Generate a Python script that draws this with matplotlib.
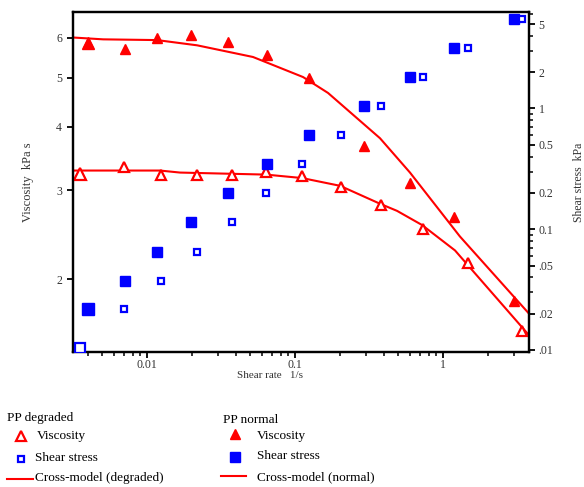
import matplotlib
matplotlib.use("Agg")
import matplotlib.pyplot as plt
from matplotlib.lines import Line2D
from matplotlib.ticker import FixedLocator, NullFormatter, NullLocator

plt.rcParams['font.family'] = ['Liberation Serif', 'DejaVu Serif']

# ---- data ----
x_normal = [0.0040, 0.0071, 0.0117, 0.0197, 0.0353, 0.0644, 0.124, 0.293, 0.598, 1.18, 3.03]
visc_normal = [5.85, 5.70, 6.00, 6.08, 5.88, 5.54, 4.99, 3.67, 3.10, 2.66, 1.81]
stress_normal = [0.0218, 0.0374, 0.0652, 0.114, 0.198, 0.348, 0.604, 1.05, 1.81, 3.16, 5.52]

x_degr = [0.00353, 0.00696, 0.0124, 0.0218, 0.0373, 0.064, 0.1115, 0.2046, 0.380, 0.730, 1.468, 3.43]
visc_degr = [3.23, 3.34, 3.22, 3.22, 3.22, 3.26, 3.20, 3.05, 2.80, 2.51, 2.15, 1.58]
stress_degr = [0.0104, 0.022, 0.0374, 0.0652, 0.114, 0.200, 0.348, 0.604, 1.05, 1.81, 3.16, 5.52]

x_model_normal = [0.00316, 0.00505, 0.01168, 0.0218, 0.052, 0.1133, 0.167, 0.375, 0.598, 1.30, 3.81]
visc_model_normal = [6.01, 5.96, 5.94, 5.80, 5.50, 5.02, 4.67, 3.80, 3.25, 2.43, 1.71]

x_model_degr = [0.00316, 0.01224, 0.0167, 0.0637, 0.1115, 0.2014, 0.375, 0.489, 0.721, 1.205, 3.81]
visc_model_degr = [3.28, 3.28, 3.25, 3.22, 3.17, 3.06, 2.82, 2.73, 2.56, 2.28, 1.55]

visc_ticks = [2, 3, 4, 5, 6]
stress_ticks = [0.01, 0.02, 0.05, 0.1, 0.2, 0.5, 1, 2, 5]
stress_tick_labels = [".01", ".02", ".05", "0.1", "0.2", "0.5", "1", "2", "5"]
x_ticks = [0.01, 0.1, 1]
x_tick_labels = ["0.01", "0.1", "1"]

RED = "#ff0000"
BLUE = "#0000ff"
W, H = 584, 487

fig = plt.figure(figsize=(W / 100, H / 100), dpi=100)
L, R, T, B = 73, 529, 12, 352
ax = fig.add_axes([L / W, 1 - B / H, (R - L) / W, (B - T) / H])
ax2 = ax.twinx()

ax.set_xscale('log')
ax.set_yscale('log')
ax2.set_yscale('log')
ax.set_xlim(0.00316, 3.81)
ax.set_ylim(1.436, 6.75)
ax2.set_ylim(0.00962, 6.29)

# model lines
ax.plot(x_model_normal, visc_model_normal, color=RED, lw=1.5, zorder=2)
ax.plot(x_model_degr, visc_model_degr, color=RED, lw=1.5, zorder=2)

# viscosity markers
ax.plot(x_normal, visc_normal, ls='none', marker='^', ms=7, color=RED, zorder=3)
ax.plot(x_normal[:1], visc_normal[:1], ls='none', marker='^', ms=9, color=RED, zorder=3)
ax.plot(x_degr, visc_degr, ls='none', marker='^', ms=6.5, mfc='white', mec=RED, mew=1.6, zorder=3)
ax.plot(x_degr[:1], visc_degr[:1], ls='none', marker='^', ms=8, mfc='white', mec=RED, mew=1.6, zorder=3)

# stress markers
ax2.plot(x_normal, stress_normal, ls='none', marker='s', ms=6.5, color=BLUE, zorder=3)
ax2.plot(x_normal[:1], stress_normal[:1], ls='none', marker='s', ms=8.2, color=BLUE, zorder=3)
ax2.plot(x_degr, stress_degr, ls='none', marker='s', ms=5, mfc='white', mec=BLUE, mew=1.6, zorder=3)
ax2.plot(x_degr[:1], stress_degr[:1], ls='none', marker='s', ms=6.5, mfc='white', mec=BLUE, mew=1.6, zorder=3)

# ticks
ax.xaxis.set_major_locator(FixedLocator(x_ticks))
ax.set_xticklabels(x_tick_labels)
ax.yaxis.set_major_locator(FixedLocator(visc_ticks))
ax.yaxis.set_minor_locator(NullLocator())
ax.set_yticklabels([str(v) for v in visc_ticks])
ax.yaxis.set_minor_formatter(NullFormatter())

stress_minor = [m * d for d in [0.01, 0.1, 1] for m in [3, 4, 6, 7, 8, 9]]
ax2.yaxis.set_major_locator(FixedLocator(stress_ticks))
ax2.yaxis.set_minor_locator(FixedLocator(stress_minor))
ax2.set_yticklabels(stress_tick_labels)
ax2.yaxis.set_minor_formatter(NullFormatter())

for a in (ax, ax2):
    for s in a.spines.values():
        s.set_linewidth(1.6)
    a.tick_params(which='major', length=4, width=1.3, labelsize=8.5, direction='out', colors='black', labelcolor='#333333', pad=2)
    a.tick_params(which='minor', length=3, width=1.1, direction='out')
ax.tick_params(axis='x', which='both', top=False)
ax.tick_params(axis='x', which='major', pad=1)
ax.tick_params(axis='y', which='major', pad=4)
ax2.tick_params(axis='y', which='major', pad=3)

ax.set_ylabel("Viscosity  kPa s", fontsize=9, labelpad=16, color='#333333')
ax2.set_ylabel("Shear stress  kPa", fontsize=8.5, labelpad=14, color='#333333')
fig.text(270 / W, 1 - 376 / H, "Shear rate   1/s", fontsize=8, ha='center', va='center', color='#333333')

# ---- custom legend ----
def fx(px):
    return px / W

def fy(py):
    return 1 - py / H

lfs = 9.5
fig.text(fx(7), fy(418), "PP degraded", fontsize=lfs, ha='left', va='center')
fig.add_artist(Line2D([fx(21)], [fy(436)], transform=fig.transFigure, ls='none', marker='^', ms=6.5, mfc='white', mec=RED, mew=1.6))
fig.text(fx(37), fy(436), "Viscosity", fontsize=lfs, ha='left', va='center')
fig.add_artist(Line2D([fx(21)], [fy(459)], transform=fig.transFigure, ls='none', marker='s', ms=5, mfc='white', mec=BLUE, mew=1.6))
fig.text(fx(35), fy(458), "Shear stress", fontsize=lfs, ha='left', va='center')
fig.add_artist(Line2D([fx(7), fx(33)], [fy(479), fy(479)], transform=fig.transFigure, color=RED, lw=1.5))
fig.text(fx(35), fy(478), "Cross-model (degraded)", fontsize=lfs, ha='left', va='center')

fig.text(fx(223), fy(420), "PP normal", fontsize=lfs, ha='left', va='center')
fig.add_artist(Line2D([fx(235)], [fy(434)], transform=fig.transFigure, ls='none', marker='^', ms=7, color=RED))
fig.text(fx(257), fy(436), "Viscosity", fontsize=lfs, ha='left', va='center')
fig.add_artist(Line2D([fx(235)], [fy(457)], transform=fig.transFigure, ls='none', marker='s', ms=6.5, color=BLUE))
fig.text(fx(257), fy(456), "Shear stress", fontsize=lfs, ha='left', va='center')
fig.add_artist(Line2D([fx(221), fx(246)], [fy(476), fy(476)], transform=fig.transFigure, color=RED, lw=1.5))
fig.text(fx(257), fy(477), "Cross-model (normal)", fontsize=lfs, ha='left', va='center')

fig.savefig("out.png", dpi=100)
